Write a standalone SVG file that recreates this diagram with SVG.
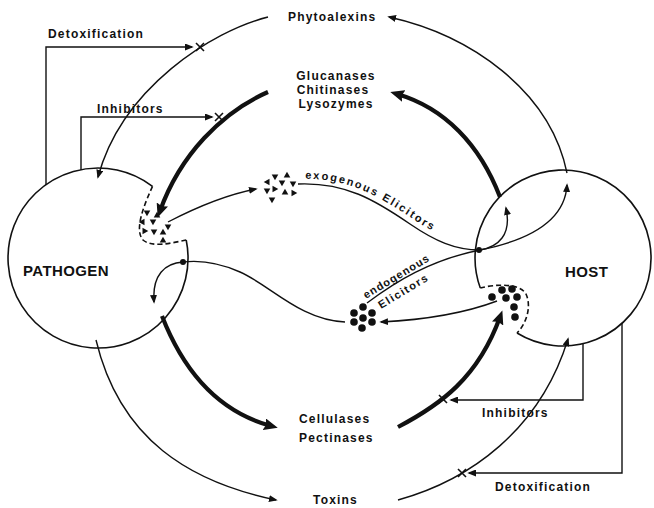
<svg xmlns="http://www.w3.org/2000/svg" width="654" height="508" viewBox="0 0 654 508">
<style>
.t{font-family:"Liberation Sans",Arial,sans-serif;font-weight:bold;font-size:12px;letter-spacing:1.2px;fill:#111}
.big{font-size:15px;letter-spacing:0.4px}
.s{font-size:11px}
.ln{fill:none;stroke:#111;stroke-width:1.4}
.thk{fill:none;stroke:#111;stroke-width:4.2}
.mem{fill:none;stroke:#111;stroke-width:1.6}
.dash{fill:none;stroke:#111;stroke-width:1.6;stroke-dasharray:5,3}
.x{fill:none;stroke:#111;stroke-width:1.6}
.dot{fill:#111}
</style>
<defs>
<marker id="a" viewBox="0 0 10 8" refX="8" refY="4" markerWidth="9" markerHeight="7" orient="auto" markerUnits="userSpaceOnUse"><path d="M0,0 L10,4 L0,8 z" fill="#111"/></marker>
<marker id="A" viewBox="0 0 14 12" refX="7" refY="6" markerWidth="14" markerHeight="12" orient="auto" markerUnits="userSpaceOnUse"><path d="M0,0 L14,6 L0,12 L2,6 z" fill="#111"/></marker>
<path id="tri" d="M-3.3,-2.5 L3.3,-2.5 L0,3.3 z" fill="#111"/>
<path id="xm" d="M-4,-4 L4,4 M-4,4 L4,-4" class="x"/>
<path id="exoPath" d="M300,179 C346,177 377,195 413,219 C437,235 456,244 480,244" fill="none"/>
</defs>
<rect width="654" height="508" fill="#fff"/>

<g id="pathogen">
<path class="mem" d="M186.2,240 A90,90 0 1 1 152.5,186.4"/>
<path class="dash" d="M152.5,186.4 C144,205 134,230 143,240 C152,248 172,243 186.2,240"/>
<text class="t big" x="23" y="276">PATHOGEN</text>
<g id="pocket-exo-elicitors">
<use href="#tri" x="147" y="213"/>
<use href="#tri" x="157" y="215" transform="rotate(180 157 215)"/>
<use href="#tri" x="142" y="222" transform="rotate(90 142 222)"/>
<use href="#tri" x="153" y="222"/>
<use href="#tri" x="145" y="231" transform="rotate(-90 145 231)"/>
<use href="#tri" x="154" y="232"/>
<use href="#tri" x="163" y="232" transform="rotate(180 163 232)"/>
<use href="#tri" x="168" y="227"/>
<use href="#tri" x="163" y="240" transform="rotate(180 163 240)"/>
</g>
</g>

<g id="host">
<path class="mem" d="M517,333 A88,88 0 1 0 480.3,288"/>
<path class="dash" d="M480.3,288 C495,284 520,283 526,294 C532,307 526,324 517,333"/>
<text class="t big" x="565" y="277">HOST</text>
<g id="pocket-endo-elicitors">
<circle class="dot" cx="492" cy="297" r="3.8"/>
<circle class="dot" cx="502" cy="290" r="3.8"/>
<circle class="dot" cx="512" cy="289" r="3.8"/>
<circle class="dot" cx="506" cy="298" r="3.8"/>
<circle class="dot" cx="517" cy="297" r="3.8"/>
<circle class="dot" cx="514" cy="307" r="3.8"/>
<circle class="dot" cx="515" cy="317" r="3.8"/>
</g>
</g>

<g id="phytoalexins"><text class="t" x="288" y="21">Phytoalexins</text></g>
<g id="glucanases">
<text class="t" x="336" y="80" text-anchor="middle">Glucanases</text>
<text class="t" x="333" y="94" text-anchor="middle">Chitinases</text>
<text class="t" x="336" y="108" text-anchor="middle">Lysozymes</text>
</g>
<g id="cellulases">
<text class="t" x="299" y="423">Cellulases</text>
<text class="t" x="299" y="442">Pectinases</text>
</g>
<g id="toxins"><text class="t" x="313" y="504">Toxins</text></g>

<g id="exogenous-elicitors">
<use href="#tri" x="275" y="177"/>
<use href="#tri" x="287" y="175" transform="rotate(180 287 175)"/>
<use href="#tri" x="267" y="182" transform="rotate(90 267 182)"/>
<use href="#tri" x="282" y="183"/>
<use href="#tri" x="293" y="184"/>
<use href="#tri" x="275" y="189" transform="rotate(-90 275 189)"/>
<use href="#tri" x="267" y="191"/>
<use href="#tri" x="285" y="192" transform="rotate(180 285 192)"/>
<use href="#tri" x="294" y="193" transform="rotate(-90 294 193)"/>
<use href="#tri" x="272" y="200"/>
<text class="t s" style="letter-spacing:1.9px"><textPath href="#exoPath" startOffset="5">exogenous Elicitors</textPath></text>
</g>

<g id="endogenous-elicitors">
<circle class="dot" cx="363" cy="307" r="3.8"/>
<circle class="dot" cx="354" cy="313" r="3.8"/>
<circle class="dot" cx="372" cy="313" r="3.8"/>
<circle class="dot" cx="363" cy="318" r="3.8"/>
<circle class="dot" cx="354" cy="322" r="3.8"/>
<circle class="dot" cx="372" cy="322" r="3.8"/>
<circle class="dot" cx="362" cy="328" r="3.8"/>
<text class="t s" style="letter-spacing:1px" transform="translate(366,299) rotate(-31)">endogenous</text>
<text class="t s" style="letter-spacing:1.5px" transform="translate(381,309) rotate(-31)">Elicitors</text>
</g>

<g id="labels-regulation">
<text class="t" x="48" y="38">Detoxification</text>
<text class="t" x="97" y="113">Inhibitors</text>
<text class="t" x="482" y="417">Inhibitors</text>
<text class="t" x="495" y="491">Detoxification</text>
</g>

<g id="connectors">
<path class="thk" d="M268,92 C222,112 180,155 160,211" marker-end="url(#A)"/>
<path class="thk" d="M500,197 C480,145 445,108 397,94" marker-end="url(#A)"/>
<path class="thk" d="M162,316 C185,375 220,412 271,426" marker-end="url(#A)"/>
<path class="thk" d="M398,427 C440,405 478,378 500,317" marker-end="url(#A)"/>
<path class="ln" d="M567,173 C550,90 470,35 389,17" marker-end="url(#a)"/>
<path class="ln" d="M268,17 C212,31 122,88 98,177" marker-end="url(#a)"/>
<path class="ln" d="M96,340 C120,440 190,482 276,500" marker-end="url(#a)"/>
<path class="ln" d="M398,500 C470,480 540,430 568,339" marker-end="url(#a)"/>
<path class="ln" d="M46,185 V47 H192" marker-end="url(#a)"/>
<path class="ln" d="M81,170 V117 H212" marker-end="url(#a)"/>
<path class="ln" d="M583,344 V400 H451" marker-end="url(#a)"/>
<path class="ln" d="M622,323 V473 H469" marker-end="url(#a)"/>
<use href="#xm" x="200" y="47"/>
<use href="#xm" x="219" y="117"/>
<use href="#xm" x="443" y="399"/>
<use href="#xm" x="462" y="473"/>
<path class="ln" d="M168,222 C195,208 225,195 256,189" marker-end="url(#a)"/>
<path class="ln" d="M298,184 C345,182 375,200 410,224 C435,241 455,250 480,250"/>
<path class="ln" d="M367,303 C395,282 430,260 480,250"/>
<circle class="dot" cx="479" cy="250" r="3"/>
<path class="ln" d="M480,250 C498,247 512,235 506,208" marker-end="url(#a)"/>
<path class="ln" d="M480,250 C530,240 565,220 567,185" marker-end="url(#a)"/>
<path class="ln" d="M497,301 C460,315 420,320 381,322" marker-end="url(#a)"/>
<path class="ln" d="M345,322 C300,320 270,285 240,272 C220,263 200,260 183,262 C165,263 152,275 154,302" marker-end="url(#a)"/>
<circle class="dot" cx="183" cy="262" r="3"/>
</g>
</svg>
